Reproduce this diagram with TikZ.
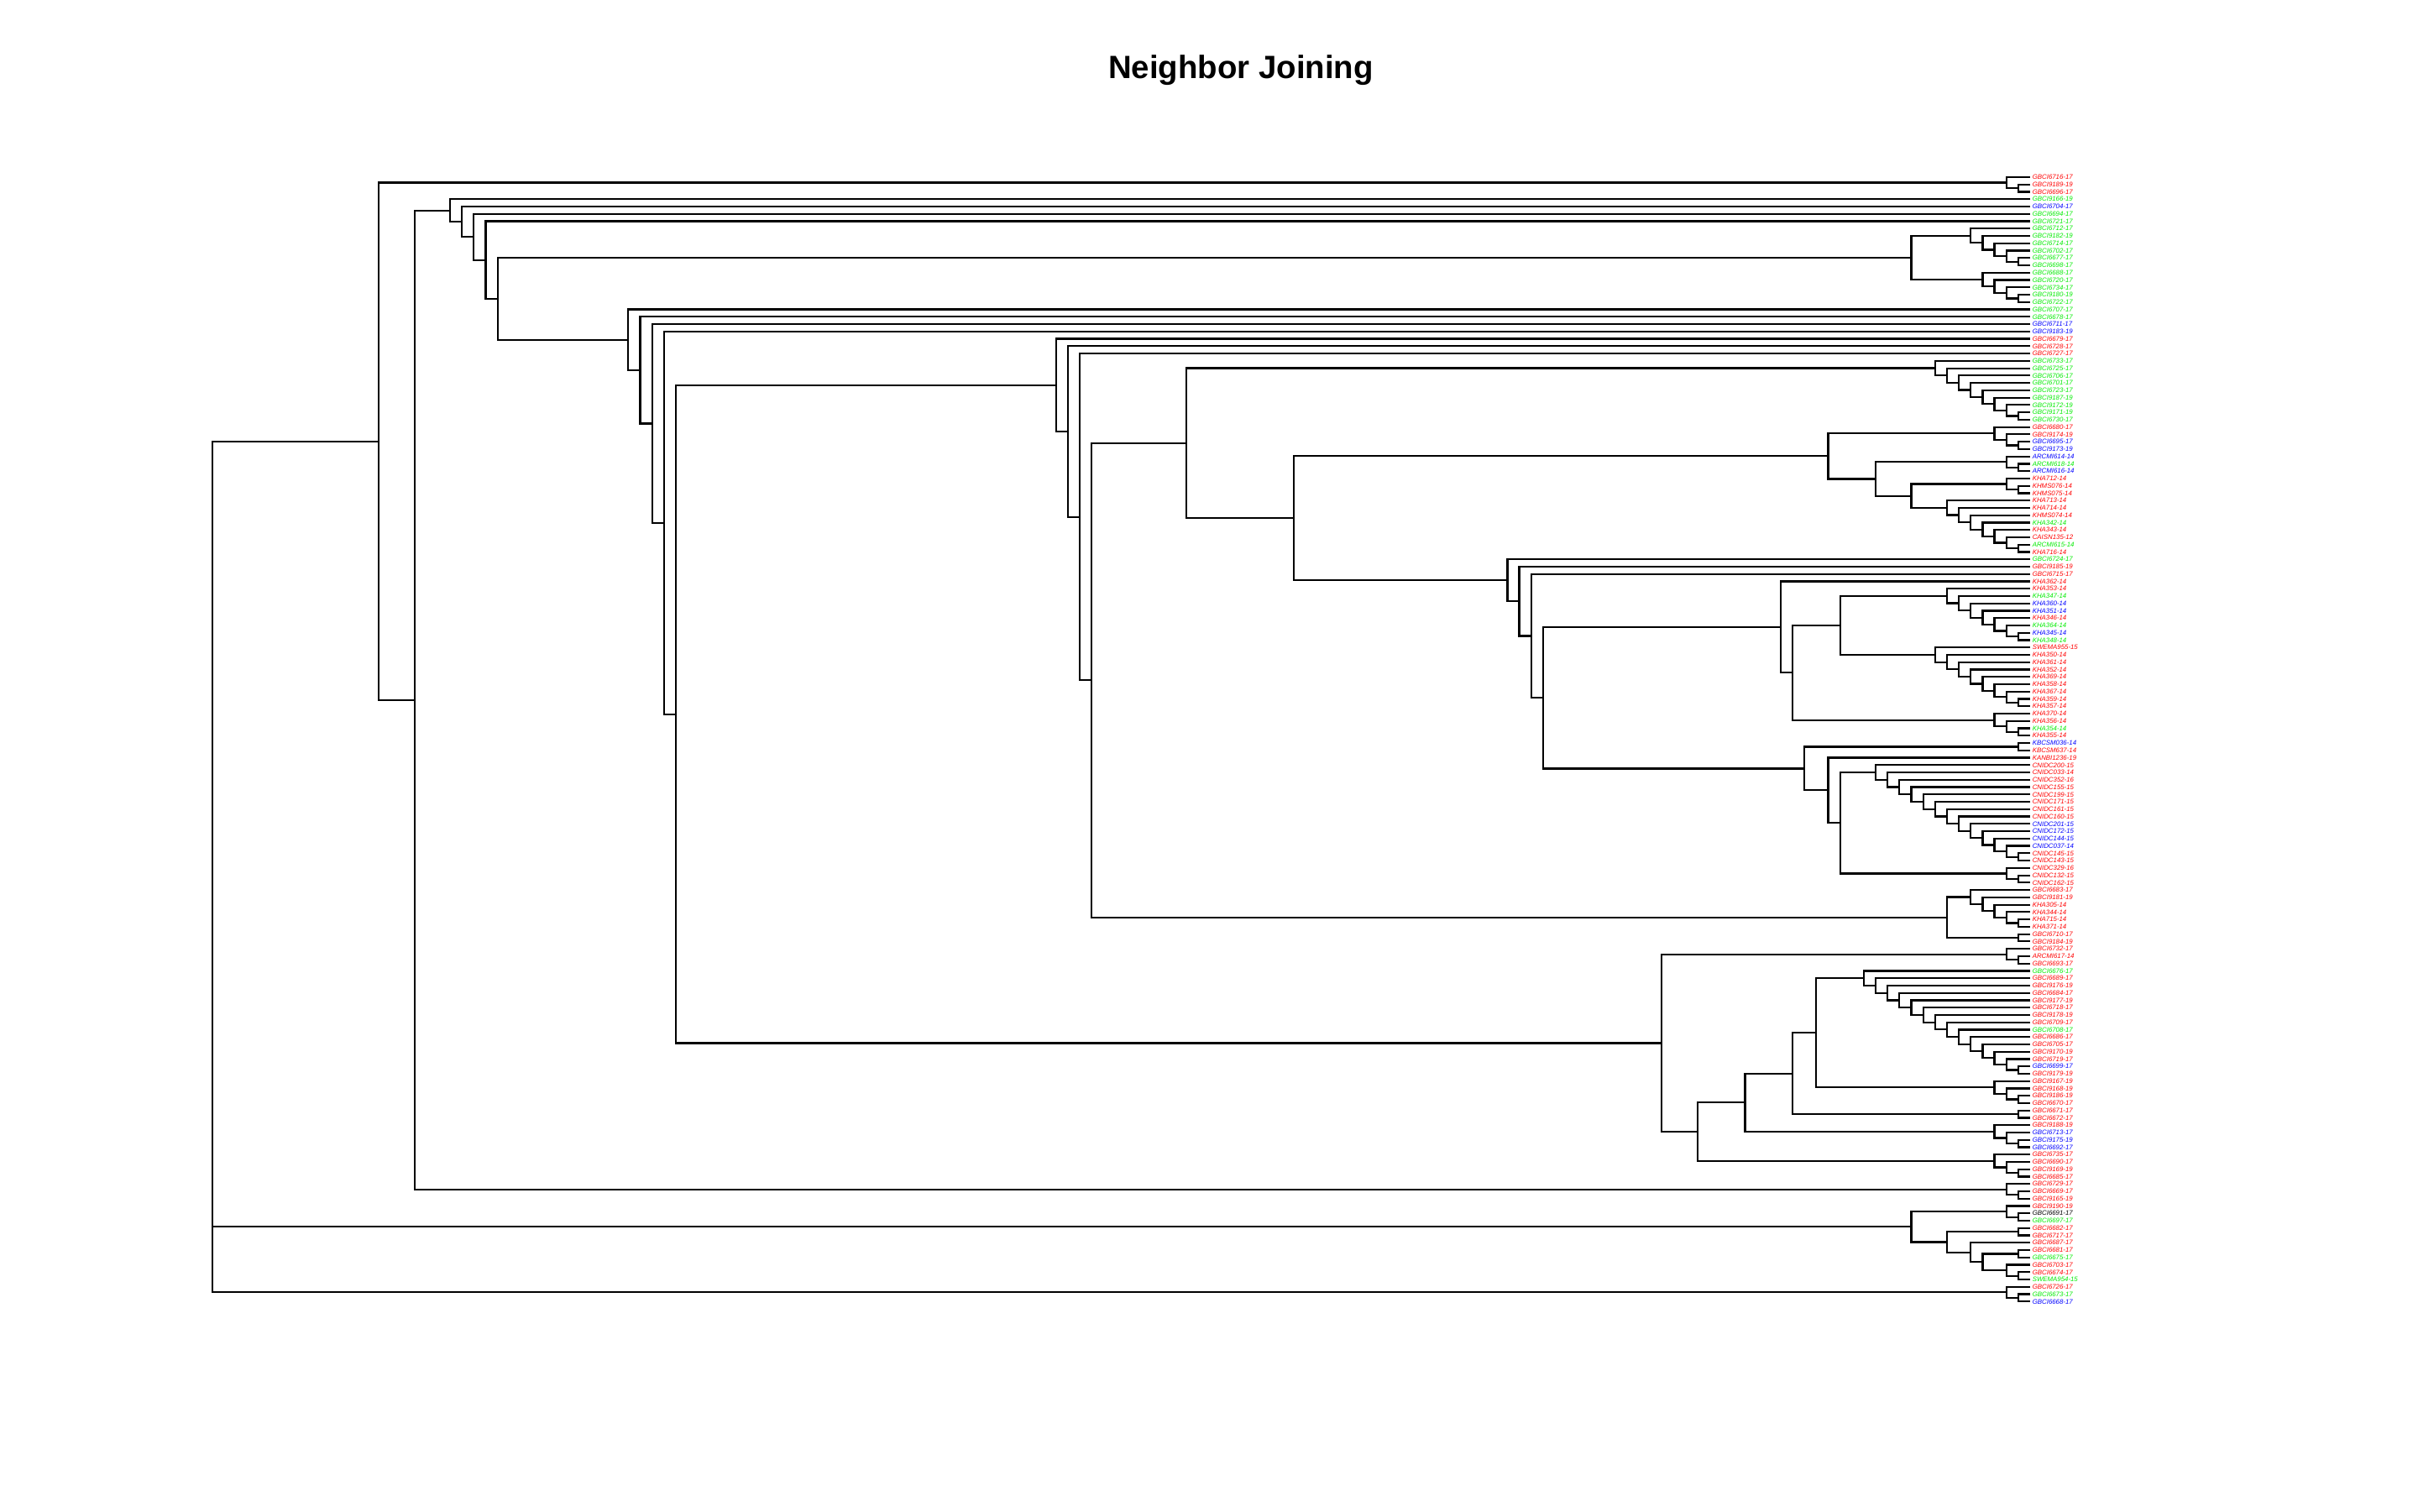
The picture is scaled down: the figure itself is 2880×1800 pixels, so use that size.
\documentclass[tikz,border=0pt]{standalone}
\usepackage{fontspec}
\setmainfont{Liberation Sans}
\definecolor{lr}{RGB}{255,0,0}
\definecolor{lg}{RGB}{0,235,0}
\definecolor{lb}{RGB}{0,0,255}
\definecolor{lk}{RGB}{0,0,0}

% tip position, horizontal step per descendant tip (pixel units)
\def\tipx{2418}
\def\unitx{14.15}

\tikzset{
  branch/.style={line width=0.55pt, black},
  leaflab/.style={anchor=west, inner sep=0pt, font=\fontsize{1.96}{2.4}\selectfont\itshape},
  titlelab/.style={inner sep=0pt, font=\fontsize{9.6}{12}\selectfont\bfseries}
}

% join two clades: #1 new node, #2 upper child, #3 lower child
\newcommand\tjoin[3]{%
  \pgfmathtruncatemacro\jn{\csname nc@#2\endcsname+\csname nc@#3\endcsname}%
  \expandafter\xdef\csname nc@#1\endcsname{\jn}%
  \pgfmathsetmacro\jy{(\csname ny@#2\endcsname+\csname ny@#3\endcsname)/2}%
  \expandafter\xdef\csname ny@#1\endcsname{\jy}%
  \pgfmathsetmacro\jx{\tipx-(\jn-1)*\unitx}%
  \coordinate (#1) at (\jx,\jy);
  \draw[branch] (#2) -- (#1 |- #2) -- (#1 |- #3) -- (#3);
}

% ladder over consecutive tips #2..#3, top node named #1x#2
\newcommand\tcat[3]{%
  \pgfmathtruncatemacro\catpen{#3-1}%
  \tjoin{#1x\catpen}{L\catpen}{L#3}%
  \pgfmathtruncatemacro\catst{#3-2}%
  \ifnum\catst<#2\relax\else
  \foreach \cj in {\catst,...,#2}{%
    \pgfmathtruncatemacro\cjn{\cj+1}%
    \tjoin{#1x\cj}{L\cj}{#1x\cjn}}%
  \fi
}

% three-way root
\newcommand\troot[3]{%
  \coordinate (root) at (\tipx-153*\unitx,\csname ny@#2\endcsname);
  \draw[branch] (#1) -- (root |- #1) -- (root |- #3) -- (#3);
  \draw[branch] (root |- #2) -- (#2);
}

\begin{document}
\begin{tikzpicture}[x=0.25pt, y=-0.25pt]
\useasboundingbox (0,0) rectangle (2880,1800);

\node[titlelab] (title) at (1478,84) {Neighbor Joining};

% tips and their labels
\foreach \lab/\col [count=\i] in {
GBCI6716-17/lr, GBCI9189-19/lr, GBCI6696-17/lr, GBCI9166-19/lg, GBCI6704-17/lb,
GBCI6694-17/lg, GBCI6721-17/lg, GBCI6712-17/lg, GBCI9182-19/lg, GBCI6714-17/lg,
GBCI6702-17/lg, GBCI6677-17/lg, GBCI6698-17/lg, GBCI6688-17/lg, GBCI6720-17/lg,
GBCI6734-17/lg, GBCI9180-19/lg, GBCI6722-17/lg, GBCI6707-17/lg, GBCI6678-17/lg,
GBCI6711-17/lb, GBCI9183-19/lb, GBCI6679-17/lr, GBCI6728-17/lr, GBCI6727-17/lr,
GBCI6733-17/lg, GBCI6725-17/lg, GBCI6706-17/lg, GBCI6701-17/lg, GBCI6723-17/lg,
GBCI9187-19/lg, GBCI9172-19/lg, GBCI9171-19/lg, GBCI6730-17/lg, GBCI6680-17/lr,
GBCI9174-19/lr, GBCI6695-17/lb, GBCI9173-19/lb, ARCMI614-14/lb, ARCMI618-14/lg,
ARCMI616-14/lb, KHA712-14/lr, KHMS076-14/lr, KHMS075-14/lr, KHA713-14/lr,
KHA714-14/lr, KHMS074-14/lr, KHA342-14/lg, KHA343-14/lr, CAISN135-12/lr,
ARCMI615-14/lg, KHA716-14/lr, GBCI6724-17/lg, GBCI9185-19/lr, GBCI6715-17/lr,
KHA362-14/lr, KHA353-14/lr, KHA347-14/lg, KHA360-14/lb, KHA351-14/lb,
KHA346-14/lr, KHA364-14/lg, KHA345-14/lb, KHA348-14/lg, SWEMA955-15/lr,
KHA350-14/lr, KHA361-14/lr, KHA352-14/lr, KHA369-14/lr, KHA358-14/lr,
KHA367-14/lr, KHA359-14/lr, KHA357-14/lr, KHA370-14/lr, KHA356-14/lr,
KHA354-14/lg, KHA355-14/lr, KBCSM036-14/lb, KBCSM637-14/lr, KANBI1236-19/lr,
CNIDC200-15/lr, CNIDC033-14/lr, CNIDC352-16/lr, CNIDC155-15/lr, CNIDC199-15/lr,
CNIDC171-15/lr, CNIDC161-15/lr, CNIDC160-15/lr, CNIDC201-15/lb, CNIDC172-15/lb,
CNIDC144-15/lb, CNIDC037-14/lb, CNIDC145-15/lr, CNIDC143-15/lr, CNIDC329-16/lr,
CNIDC132-15/lr, CNIDC162-15/lr, GBCI6683-17/lr, GBCI9181-19/lr, KHA305-14/lr,
KHA344-14/lr, KHA715-14/lr, KHA371-14/lr, GBCI6710-17/lr, GBCI9184-19/lr,
GBCI6732-17/lr, ARCMI617-14/lr, GBCI6693-17/lr, GBCI6676-17/lg, GBCI6689-17/lr,
GBCI9176-19/lr, GBCI6684-17/lr, GBCI9177-19/lr, GBCI6718-17/lr, GBCI9178-19/lr,
GBCI6709-17/lr, GBCI6708-17/lg, GBCI6686-17/lr, GBCI6705-17/lr, GBCI9170-19/lr,
GBCI6719-17/lr, GBCI6699-17/lb, GBCI9179-19/lr, GBCI9167-19/lr, GBCI9168-19/lr,
GBCI9186-19/lr, GBCI6670-17/lr, GBCI6671-17/lr, GBCI6672-17/lr, GBCI9188-19/lr,
GBCI6713-17/lb, GBCI9175-19/lb, GBCI6692-17/lb, GBCI6735-17/lr, GBCI6690-17/lr,
GBCI9169-19/lr, GBCI6685-17/lr, GBCI6729-17/lr, GBCI6669-17/lr, GBCI9165-19/lr,
GBCI9190-19/lr, GBCI6691-17/lk, GBCI6697-17/lg, GBCI6682-17/lr, GBCI6717-17/lr,
GBCI6687-17/lr, GBCI6681-17/lr, GBCI6675-17/lg, GBCI6703-17/lr, GBCI6674-17/lr,
SWEMA954-15/lg, GBCI6726-17/lr, GBCI6673-17/lg, GBCI6668-17/lb}{
  \pgfmathsetmacro\yy{211+(\i-1)*8.7536}
  \expandafter\xdef\csname ny@L\i\endcsname{\yy}
  \expandafter\xdef\csname nc@L\i\endcsname{1}
  \coordinate (L\i) at (\tipx,\yy);
  \node[leaflab,text=\col] (T\i) at (\tipx+2,\yy) {\lab};
}

% top three tips
\tjoin{a1}{L2}{L3}
\tjoin{a2}{L1}{a1}

% first green group
\tcat{ga}{8}{13}
\tcat{gb}{14}{18}
\tjoin{g}{gax8}{gbx14}

% second green group
\tcat{gc}{26}{34}

% GBCI / ARCMI / KHA group
\tcat{pa}{35}{38}
\tcat{pb}{39}{41}
\tcat{pc}{42}{44}
\tcat{pd}{45}{52}
\tjoin{p3}{pcx42}{pdx45}
\tjoin{p2}{pbx39}{p3}
\tjoin{p1}{pax35}{p2}

% KHA group
\tcat{ra}{57}{64}
\tcat{rb}{65}{73}
\tjoin{s1}{rax57}{rbx65}
\tcat{rc}{74}{77}
\tjoin{r2}{s1}{rcx74}
\tjoin{r1}{L56}{r2}

% KBCSM / CNIDC group
\tjoin{t0}{L78}{L79}
\tcat{ta}{81}{94}
\tcat{tb}{95}{97}
\tjoin{t3}{tax81}{tbx95}
\tjoin{t2}{L80}{t3}
\tjoin{t1}{t0}{t2}

\tjoin{q4}{r1}{t1}
\tjoin{q3}{L55}{q4}
\tjoin{q2}{L54}{q3}
\tjoin{q1}{L53}{q2}
\tjoin{n2}{p1}{q1}
\tjoin{n1}{gcx26}{n2}

\tcat{ua}{98}{103}
\tjoin{ub}{L104}{L105}
\tjoin{u}{uax98}{ub}

\tjoin{m4}{n1}{u}
\tjoin{m3}{L25}{m4}
\tjoin{m2}{L24}{m3}
\tjoin{m1}{L23}{m2}

% large red group
\tcat{ha}{106}{108}
\tcat{hb}{109}{123}
\tcat{hc}{124}{127}
\tjoin{hm}{hbx109}{hcx124}
\tjoin{hn}{L128}{L129}
\tjoin{hk}{hm}{hn}
\tcat{hl}{130}{133}
\tjoin{hj}{hk}{hlx130}
\tcat{hg}{134}{137}
\tjoin{hi}{hj}{hgx134}
\tjoin{h}{hax106}{hi}

% backbone
\tjoin{e13}{m1}{h}
\tjoin{e12}{L22}{e13}
\tjoin{e11}{L21}{e12}
\tjoin{e10}{L20}{e11}
\tjoin{e9}{L19}{e10}
\tjoin{e8}{g}{e9}
\tjoin{e7}{L7}{e8}
\tjoin{e6}{L6}{e7}
\tjoin{e5}{L5}{e6}
\tjoin{e}{L4}{e5}
\tcat{f}{138}{140}
\tjoin{d}{e}{fx138}
\tjoin{a}{a2}{d}

% lower groups
\tcat{ba}{141}{143}
\tjoin{bb}{L144}{L145}
\tjoin{bd}{L147}{L148}
\tcat{be}{149}{151}
\tjoin{bc}{bd}{bex149}
\tjoin{bf}{L146}{bc}
\tjoin{bg}{bb}{bf}
\tjoin{b}{bax141}{bg}
\tcat{c}{152}{154}

\troot{a}{b}{cx152}
\end{tikzpicture}
\end{document}
